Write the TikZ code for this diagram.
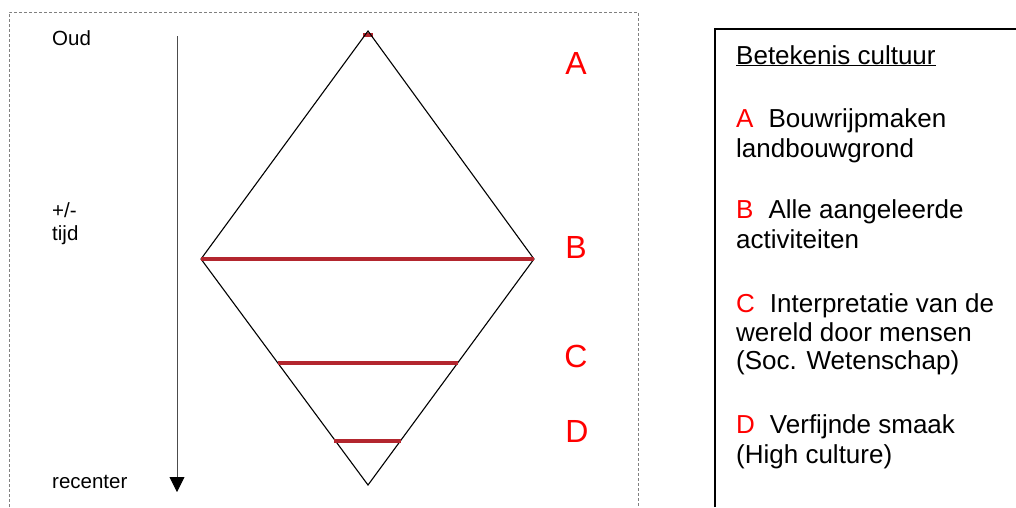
\documentclass[tikz,border=0pt]{standalone}
\usepackage{fontspec}
\setmainfont{Liberation Sans}
\usetikzlibrary{arrows.meta}
\definecolor{lred}{HTML}{B3262E}
\begin{document}
\begin{tikzpicture}[x=1pt,y=-1pt,
  edge/.style={black, line width=1.1pt, line join=miter},
  level/.style={lred, line width=3.5pt},
  letter/.style={text=red, font=\fontsize{32}{36}\selectfont, inner sep=0pt},
  lefttxt/.style={font=\fontsize{20.5}{23.5}\selectfont, inner sep=0pt, anchor=base west},
  legend/.style={font=\fontsize{26}{30}\selectfont, inner sep=0pt, anchor=base west}]
\useasboundingbox (0,0) rectangle (1016,507);
% dashed frame (open at bottom)
\coordinate (f1) at (9,507);
\coordinate (f2) at (9,12);
\coordinate (f3) at (638,12);
\coordinate (f4) at (638,507);
\draw[gray, densely dashed, line width=0.8pt] (f1) -- (f2) -- (f3) -- (f4);
% legend frame (open at right and bottom)
\coordinate (l1) at (714.7,507);
\coordinate (l2) at (714.7,29);
\coordinate (l3) at (1016,29);
\draw[black, line width=1.8pt] (l1) -- (l2) -- (l3);
% time arrow
\coordinate (tstart) at (177,36);
\coordinate (tend) at (177,492);
\draw[black!70, line width=0.9pt, -{Triangle[length=15pt,width=15pt,black]}] (tstart) -- (tend);
% left labels
\node[lefttxt] (oud) at (52,45) {Oud};
\node[lefttxt] (pm) at (52,217) {+/-};
\node[lefttxt] (tijd) at (52,240) {tijd};
\node[lefttxt] (rec) at (52,488) {recenter};
% diamond
\coordinate (top) at (368,31);
\coordinate (left) at (201,259);
\coordinate (right) at (534,259);
\coordinate (bottom) at (368,485);
% top level mark (small cap at apex)
\coordinate (a1) at (363,34.5);
\coordinate (a2) at (373,34.5);
\draw[level, line width=4pt] (a1) -- (a2);
\draw[edge] (top) -- (right) -- (bottom) -- (left) -- cycle;
% levels
\draw[level] (left) -- (right);
\coordinate (c1) at (278,363);
\coordinate (c2) at (458,363);
\draw[level] (c1) -- (c2);
\coordinate (d1) at (334,441);
\coordinate (d2) at (401,441);
\draw[level] (d1) -- (d2);
% letters
\node[letter] (A) at (576,63) {A};
\node[letter] (B) at (576,247) {B};
\node[letter] (C) at (576,356) {C};
\node[letter] (D) at (577,431) {D};
% legend text
\node[legend] (title) at (736,64) {\underline{Betekenis cultuur}};
\node[legend] (la1) at (736,127) {{\color{red}A}\hspace{15pt}Bouwrijpmaken};
\node[legend] (la2) at (736,157) {landbouwgrond};
\node[legend] (lb1) at (736,218) {{\color{red}B}\hspace{15pt}Alle aangeleerde};
\node[legend] (lb2) at (736,248) {activiteiten};
\node[legend] (lc1) at (736,312) {{\color{red}C}\hspace{15pt}Interpretatie van de};
\node[legend] (lc2) at (736,341) {wereld door mensen};
\node[legend] (lc3) at (736,369) {(Soc. Wetenschap)};
\node[legend] (ld1) at (736,433) {{\color{red}D}\hspace{15pt}Verfijnde smaak};
\node[legend] (ld2) at (736,463) {(High culture)};
\end{tikzpicture}
\end{document}
